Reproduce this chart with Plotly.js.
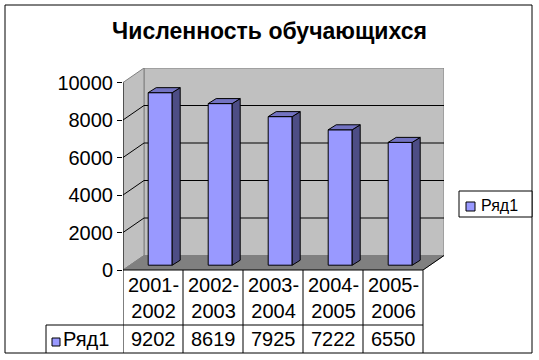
<!DOCTYPE html>
<html>
<head>
<meta charset="utf-8">
<script src="https://cdn.plot.ly/plotly-3.0.1.min.js"></script>
<style>html,body{margin:0;padding:0;background:#fff;}#chart{width:539px;height:360px;}</style>
</head>
<body>
<div id="chart"></div>
<script>
// ---- data ----
var categories = ['2001-2002', '2002-2003', '2003-2004', '2004-2005', '2005-2006'];
var values = [9202, 8619, 7925, 7222, 6550];
var seriesName = 'Ряд1';
var tickValues = [0, 2000, 4000, 6000, 8000, 10000];

// ---- geometry (plot area in px) ----
var W = 539, H = 360;
var PX0 = 123, PX1 = 444, PY0 = 68, PY1 = 270;
var pxPerX = 60;                 // one category = 60 px
var pxPerY = 187.5 / 10000;      // px per value unit
var yMax = (PY1 - PY0) / pxPerY;
var xMin = -0.5, xMax = xMin + (PX1 - PX0) / pxPerX;
var depthDX = 21 / pxPerX, depthDY = 14.5 / pxPerY;   // wall depth
var barOffX = 0.12, barBase = 4.8 / pxPerY;           // bar front-face offset
var barHalf = 0.2, barDX = 8 / pxPerX, barDY = 5 / pxPerY;
var topVal = tickValues[tickValues.length - 1];

function px2paperX(p) { return (p - PX0) / (PX1 - PX0); }
function px2paperY(p) { return (PY1 - p) / (PY1 - PY0); }
function poly(pts) { return 'M' + pts.map(function (p) { return p[0] + ',' + p[1]; }).join('L') + 'Z'; }

var font = 'Arial, "Liberation Sans", sans-serif';
var fs = 20;
var shapes = [];

// walls & floor
var lastX = categories.length - 0.5;
shapes.push({type: 'path', xref: 'x', yref: 'y', layer: 'below',
  path: poly([[xMin + depthDX, depthDY], [lastX + depthDX, depthDY], [lastX + depthDX, topVal + depthDY], [xMin + depthDX, topVal + depthDY]]),
  fillcolor: '#C0C0C0', line: {color: '#808080', width: 1}});
shapes.push({type: 'path', xref: 'x', yref: 'y', layer: 'below',
  path: poly([[xMin, 0], [xMin + depthDX, depthDY], [xMin + depthDX, topVal + depthDY], [xMin, topVal]]),
  fillcolor: '#C0C0C0', line: {color: '#808080', width: 1}});
shapes.push({type: 'path', xref: 'x', yref: 'y', layer: 'below',
  path: poly([[xMin, 0], [lastX, 0], [lastX + depthDX, depthDY], [xMin + depthDX, depthDY]]),
  fillcolor: '#808080', line: {color: '#808080', width: 1}});
// floor right edge
shapes.push({type: 'line', xref: 'x', yref: 'y', layer: 'below', x0: lastX, y0: 0, x1: lastX + depthDX, y1: depthDY, line: {color: '#000', width: 1}});

// gridlines
tickValues.forEach(function (v) {
  if (v === 0 || v === topVal) return;
  shapes.push({type: 'line', xref: 'x', yref: 'y', layer: 'below', x0: xMin + depthDX, y0: v + depthDY, x1: lastX + depthDX, y1: v + depthDY, line: {color: '#000', width: 1}});
  shapes.push({type: 'line', xref: 'x', yref: 'y', layer: 'below', x0: xMin, y0: v, x1: xMin + depthDX, y1: v + depthDY, line: {color: '#000', width: 1}});
});
// front axis line
shapes.push({type: 'line', xref: 'x', yref: 'y', layer: 'above', x0: xMin, y0: 0, x1: xMin, y1: topVal, line: {color: '#000', width: 1}});

// bar side and top faces
values.forEach(function (v, i) {
  var xl = i + barOffX - barHalf, xr = i + barOffX + barHalf, yb = barBase, yt = barBase + v;
  shapes.push({type: 'path', xref: 'x', yref: 'y', layer: 'above',
    path: poly([[xr, yb], [xr + barDX, yb + barDY], [xr + barDX, yt + barDY], [xr, yt]]),
    fillcolor: '#4D4D85', line: {color: '#000', width: 1}});
  shapes.push({type: 'path', xref: 'x', yref: 'y', layer: 'above',
    path: poly([[xl, yt], [xr, yt], [xr + barDX, yt + barDY], [xl + barDX, yt + barDY]]),
    fillcolor: '#7373C2', line: {color: '#000', width: 1}});
});

// data table
var tTop = 270, tMid = 325, tBot = 353, tLeft = 46;
shapes.push({type: 'line', xref: 'x', yref: 'paper', x0: xMin, x1: lastX, y0: px2paperY(tTop), y1: px2paperY(tTop), line: {color: '#000', width: 1}});
shapes.push({type: 'line', xref: 'paper', yref: 'paper', x0: px2paperX(tLeft), x1: px2paperX(PX0 + categories.length * pxPerX), y0: px2paperY(tMid), y1: px2paperY(tMid), line: {color: '#000', width: 1}});
shapes.push({type: 'line', xref: 'paper', yref: 'paper', x0: px2paperX(tLeft), x1: px2paperX(tLeft), y0: px2paperY(tMid), y1: px2paperY(tBot), line: {color: '#000', width: 1}});
for (var k = 0; k <= categories.length; k++) {
  shapes.push({type: 'line', xref: 'x', yref: 'paper', x0: k - 0.5, x1: k - 0.5, y0: px2paperY(tTop), y1: px2paperY(tBot), line: {color: '#000', width: 1}});
}
// table legend key
shapes.push({type: 'rect', xref: 'paper', yref: 'paper', x0: px2paperX(52), x1: px2paperX(60), y0: px2paperY(338), y1: px2paperY(346), fillcolor: '#9999FF', line: {color: '#000', width: 1}});

// legend box (manual)
shapes.push({type: 'rect', xref: 'paper', yref: 'paper', x0: px2paperX(459), x1: px2paperX(532), y0: px2paperY(191), y1: px2paperY(217), fillcolor: '#fff', line: {color: '#000', width: 1}});
shapes.push({type: 'rect', xref: 'paper', yref: 'paper', x0: px2paperX(466), x1: px2paperX(475), y0: px2paperY(202), y1: px2paperY(211), fillcolor: '#9999FF', line: {color: '#000', width: 1}});

// outer chart border
shapes.push({type: 'rect', xref: 'paper', yref: 'paper', x0: px2paperX(5), x1: px2paperX(532), y0: px2paperY(5), y1: px2paperY(353), line: {color: '#000', width: 1}, layer: 'below'});

var annotations = [];
categories.forEach(function (c, i) {
  annotations.push({xref: 'x', yref: 'paper', x: i, y: px2paperY((tTop + tMid) / 2), text: c.replace('-', '-<br>'), showarrow: false, font: {family: font, size: fs, color: '#000'}, xanchor: 'center', yanchor: 'middle'});
  annotations.push({xref: 'x', yref: 'paper', x: i, y: px2paperY((tMid + tBot) / 2), text: String(values[i]), showarrow: false, font: {family: font, size: fs, color: '#000'}, xanchor: 'center', yanchor: 'middle'});
});
annotations.push({xref: 'paper', yref: 'paper', x: px2paperX(61), y: px2paperY((tMid + tBot) / 2), text: seriesName, showarrow: false, font: {family: font, size: fs, color: '#000'}, xanchor: 'left', yanchor: 'middle'});
annotations.push({xref: 'paper', yref: 'paper', x: px2paperX(479), y: px2paperY(205), text: seriesName, showarrow: false, font: {family: font, size: 16, color: '#000'}, xanchor: 'left', yanchor: 'middle'});

var trace = {
  type: 'bar', name: seriesName,
  x: categories.map(function (c, i) { return i + barOffX; }),
  y: values, base: barBase, width: 2 * barHalf,
  marker: {color: '#9999FF', line: {color: '#000', width: 1}},
  hoverinfo: 'skip', showlegend: false
};

var layout = {
  width: W, height: H,
  margin: {l: PX0, r: W - PX1, t: PY0, b: H - PY1, pad: 0},
  paper_bgcolor: '#fff', plot_bgcolor: 'rgba(0,0,0,0)',
  title: {text: 'Численность обучающихся', font: {family: font, size: 23, color: '#000', weight: 'bold'}, xref: 'container', yref: 'container', x: 0.5, y: 1 - 31 / H, xanchor: 'center', yanchor: 'middle'},
  xaxis: {range: [xMin, xMax], showticklabels: false, showgrid: false, zeroline: false, showline: false, ticks: '', fixedrange: true},
  yaxis: {range: [0, yMax], tickvals: tickValues, tickformat: 'd', ticks: 'outside', ticklen: 5, tickcolor: '#000', tickwidth: 1, showgrid: false, zeroline: false, showline: false, tickfont: {family: font, size: fs, color: '#000'}, fixedrange: true},
  showlegend: false,
  shapes: shapes, annotations: annotations, bargap: 0
};

Plotly.newPlot('chart', [trace], layout, {displayModeBar: false, staticPlot: true});
</script>
</body>
</html>
